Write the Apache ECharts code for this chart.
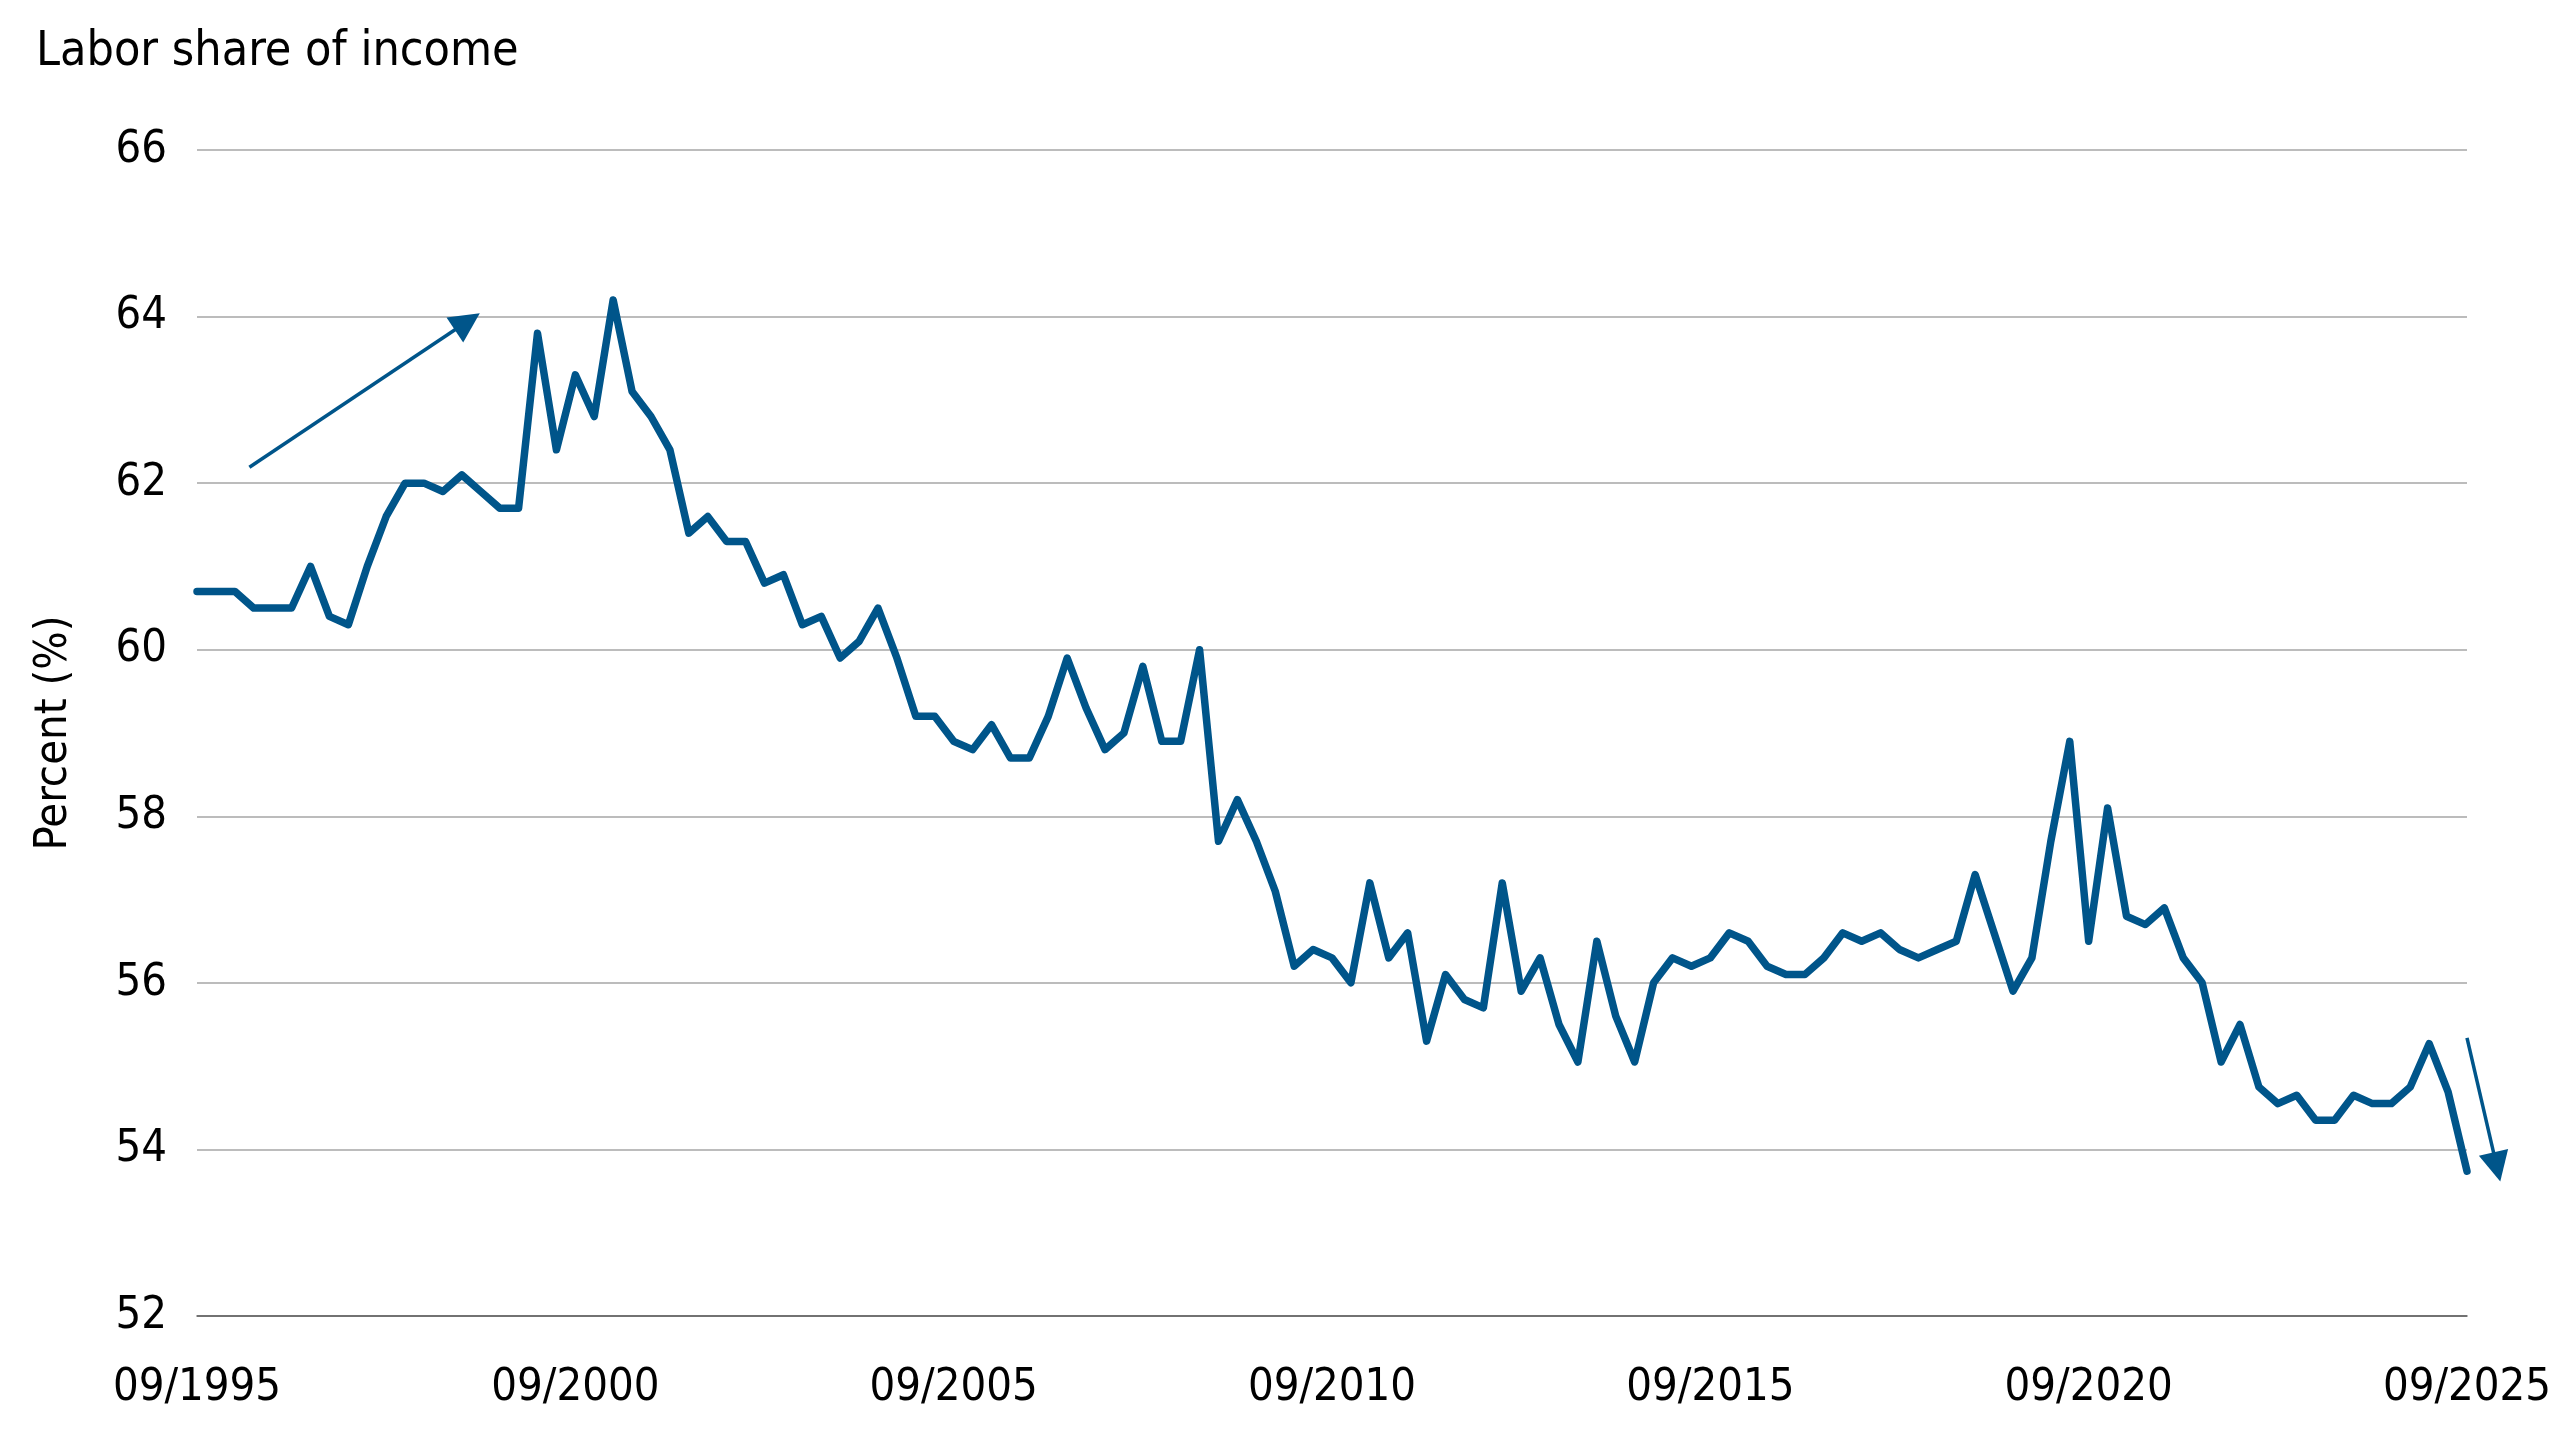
<!DOCTYPE html>
<html>
<head>
<meta charset="utf-8">
<script src="https://cdn.jsdelivr.net/npm/echarts@6/dist/echarts.min.js"></script>
<style>
  html, body { margin: 0; padding: 0; background: #ffffff; }
  #chart { width: 2560px; height: 1440px; }
</style>
</head>
<body>
<div id="chart"></div>
<script>
// ---- Data ----
const titleText = 'Labor share of income';
const yAxisName = 'Percent (%)';

// Quarterly periods from 09/1995 to 09/2025
const quarterMonths = ['09', '12', '03', '06'];
const periods = [];
for (let i = 0; i <= 120; i++) {
  const m = quarterMonths[i % 4];
  const year = 1995 + Math.floor((i + 3) / 4);
  periods.push(m + '/' + year);
}

const laborShare = [
  60.7, 60.7, 60.7, 60.5, 60.5, 60.5, 61.0, 60.4, 60.3, 61.0,
  61.6, 62.0, 62.0, 61.9, 62.1, 61.9, 61.7, 61.7, 63.8, 62.4,
  63.3, 62.8, 64.2, 63.1, 62.8, 62.4, 61.4, 61.6, 61.3, 61.3,
  60.8, 60.9, 60.3, 60.4, 59.9, 60.1, 60.5, 59.9, 59.2, 59.2,
  58.9, 58.8, 59.1, 58.7, 58.7, 59.2, 59.9, 59.3, 58.8, 59.0,
  59.8, 58.9, 58.9, 60.0, 57.7, 58.2, 57.7, 57.1, 56.2, 56.4,
  56.3, 56.0, 57.2, 56.3, 56.6, 55.3, 56.1, 55.8, 55.7, 57.2,
  55.9, 56.3, 55.5, 55.05, 56.5, 55.6, 55.05, 56.0, 56.3, 56.2,
  56.3, 56.6, 56.5, 56.2, 56.1, 56.1, 56.3, 56.6, 56.5, 56.6,
  56.4, 56.3, 56.4, 56.5, 57.3, 56.6, 55.9, 56.3, 57.7, 58.9,
  56.5, 58.1, 56.8, 56.7, 56.9, 56.3, 56.0, 55.05, 55.5, 54.75,
  54.55, 54.65, 54.35, 54.35, 54.65, 54.55, 54.55, 54.75, 55.27, 54.69,
  53.74
];

const yMin = 52, yMax = 66, yStep = 2;

// Trend arrow annotations in data space: [quarter index, percent]
const upArrow = [[2.77, 62.19], [14.29, 63.94]];
const downArrow = [[120.0, 55.34], [121.58, 53.79]];

// ---- Chart ----
const FONT = "'Liberation Sans Narrow', 'Arial Narrow', 'DejaVu Sans Condensed', 'Liberation Sans', sans-serif";
const LINE_COLOR = '#00558a';

const chart = echarts.init(document.getElementById('chart'), null, { renderer: 'canvas' });

chart.setOption({
  backgroundColor: '#ffffff',
  animation: false,
  textStyle: { fontFamily: FONT },
  title: {
    text: titleText,
    left: 31,
    top: 24,
    textStyle: { fontFamily: FONT, fontSize: 48, fontWeight: 'normal', color: '#000000' }
  },
  grid: { left: 197, right: 93, top: 150, bottom: 124, containLabel: false },
  xAxis: [
    {
      type: 'category',
      data: periods,
      boundaryGap: false,
      axisLine: { show: true, lineStyle: { color: '#5a5a5a', width: 1.5 } },
      axisTick: { show: false },
      axisLabel: {
        interval: function (idx) { return idx % 20 === 0; },
        fontFamily: FONT, fontSize: 45, color: '#000000', margin: 50
      },
      splitLine: { show: false }
    },
    {
      type: 'value',
      min: 0, max: 120,
      show: false
    }
  ],
  yAxis: {
    type: 'value',
    min: yMin, max: yMax, interval: yStep,
    name: yAxisName,
    nameLocation: 'middle',
    nameRotate: 90,
    nameGap: 120,
    nameTextStyle: { fontFamily: FONT, fontSize: 45, color: '#000000' },
    axisLine: { show: false },
    axisTick: { show: false },
    axisLabel: { fontFamily: FONT, fontSize: 45, color: '#000000', margin: 30 },
    splitLine: { show: true, lineStyle: { color: '#a6a6a6', width: 1.5 } }
  },
  series: [
    {
      type: 'line',
      data: laborShare,
      symbol: 'none',
      lineStyle: { color: LINE_COLOR, width: 7.5, cap: 'round', join: 'round' },
      itemStyle: { color: LINE_COLOR },
      z: 3
    },
    {
      type: 'lines',
      coordinateSystem: 'cartesian2d',
      xAxisIndex: 1,
      yAxisIndex: 0,
      clip: false,
      symbol: ['none', 'triangle'],
      symbolSize: [26, 30],
      lineStyle: { color: LINE_COLOR, width: 3.5, opacity: 1 },
      data: [
        { coords: upArrow },
        { coords: downArrow }
      ],
      z: 4
    }
  ]
});
</script>
</body>
</html>
